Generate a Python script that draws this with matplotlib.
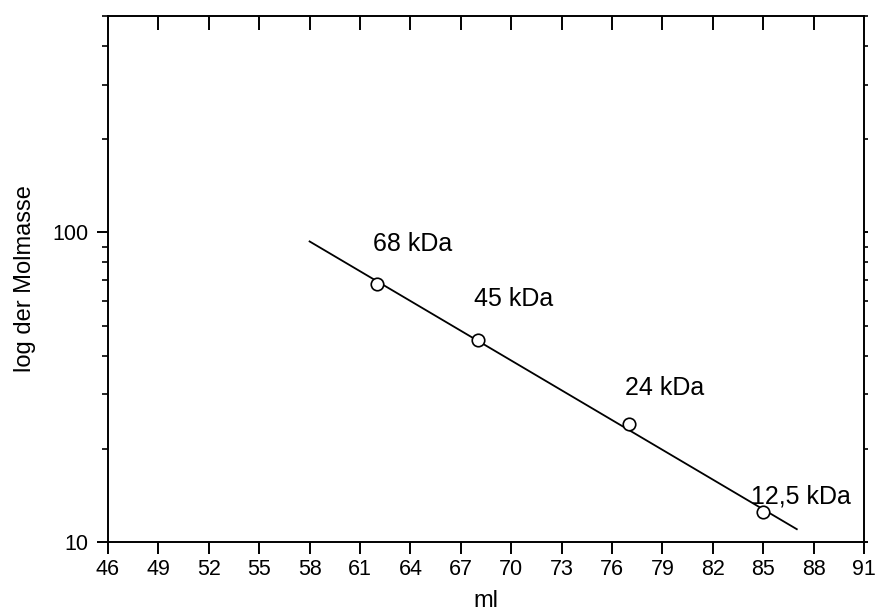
import matplotlib
matplotlib.use("Agg")
import matplotlib.pyplot as plt
from matplotlib.ticker import LogLocator, FixedLocator, NullFormatter

plt.rcParams["font.family"] = ["Liberation Sans", "DejaVu Sans"]

# Messpunkte (Elutionsvolumen in ml, Molmasse in kDa)
volume_ml = [62, 68, 77, 85]
mass_kda = [68, 45, 24, 12.5]
point_labels = ["68 kDa", "45 kDa", "24 kDa", "12,5 kDa"]

# Ausgleichsgerade (Endpunkte)
fit_x = [58, 87]
fit_y = [93.5, 11.0]

# Positionen der Beschriftungen
label_x = [61.8, 67.8, 76.8, 84.3]
label_y = [92, 61, 31.5, 14]

x_ticks = list(range(46, 92, 3))

fig = plt.figure(figsize=(8.75, 6.14), dpi=100)
ax = fig.add_axes([108 / 875, 1 - 542 / 614, (864 - 108) / 875, (542 - 16) / 614])

ax.plot(fit_x, fit_y, color="black", linewidth=1.3)
ax.plot(volume_ml, mass_kda, linestyle="none", marker="o", markersize=9,
        markerfacecolor="white", markeredgecolor="black", markeredgewidth=1.2)
for text, x, y in zip(point_labels, label_x, label_y):
    ax.text(x, y, text, fontsize=18, ha="left", va="center")

ax.set_yscale("log")
ax.set_xlim(46, 91)
ax.set_ylim(10, 500)
ax.xaxis.set_major_locator(FixedLocator(x_ticks))
ax.set_yticks([10, 100])
ax.set_yticklabels(["10", "100"])
ax.yaxis.set_minor_locator(LogLocator(base=10, subs=range(2, 10)))
ax.yaxis.set_minor_formatter(NullFormatter())

for spine in ax.spines.values():
    spine.set_linewidth(1.4)

ax.tick_params(axis="x", which="major", direction="out", length=8.5, width=1.4,
               labelsize=15.5, pad=4, top=True)
ax.tick_params(axis="y", which="major", direction="out", length=8, width=1.4,
               labelsize=15.5, pad=6, right=True)
ax.tick_params(axis="y", which="minor", direction="out", length=4.5, width=1.2, right=True)

# oben nach innen, rechts kurz nach aussen
for t in ax.xaxis.get_major_ticks():
    t.tick2line.set_marker(3)
    t.tick2line.set_markersize(10)
for t in ax.yaxis.get_major_ticks() + ax.yaxis.get_minor_ticks():
    t.tick2line.set_markersize(3)

ax.set_xlabel("ml", fontsize=17, labelpad=7)
ax.set_ylabel("log der Molmasse", fontsize=17, labelpad=12)

fig.savefig("out.png", dpi=100)
